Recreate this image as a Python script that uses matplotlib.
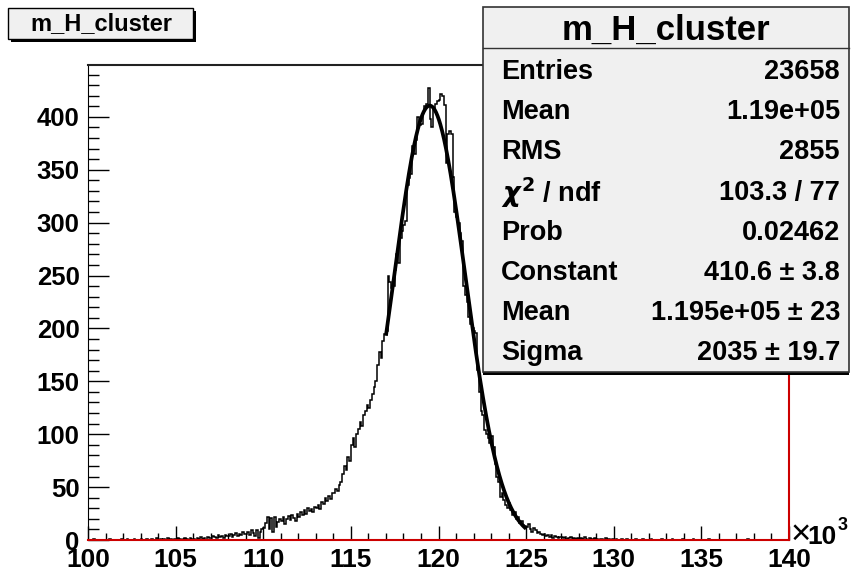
import numpy as np
import matplotlib.pyplot as plt
from matplotlib.patches import Rectangle

plt.rcParams['font.family'] = ['Liberation Sans', 'DejaVu Sans']
plt.rcParams['font.weight'] = 'bold'

# histogram m_H_cluster, 400 bins of 0.1 (x10^3) from 100 to 140
edges = np.linspace(100, 140, 401)

tail_low = [0, 0, 0, 1, 0, 0, 0, 0, 0, 0,
            0, 0, 1, 0, 0, 0, 0, 0, 0, 1,
            0, 0, 1, 0, 0, 0, 1, 0, 0, 0,
            1, 0, 0, 1, 0, 0, 1, 0, 0, 2,
            0, 1, 0, 1, 0, 2, 0, 1, 0, 1,
            1, 2, 1, 0, 1, 2, 1, 0, 2, 1,
            1, 0, 2, 1, 3, 1, 2, 0, 3, 2,
            2, 4, 3, 2, 5, 3, 4, 2, 5, 4,
            4, 6, 3, 5, 7, 4, 6, 5, 8, 6,
            6, 8, 5, 9, 7, 4, 9, 2, 8, 10]
rise = [11, 16, 22, 10, 21, 8, 22, 12, 17, 20,
        18, 22, 15, 20, 23, 19, 24, 21, 18, 25,
        22, 26, 24, 28, 25, 30, 27, 29, 26, 31,
        30, 33, 29, 36, 34, 40, 37, 42, 39, 44,
        44, 48, 46, 52, 55, 62, 70, 66, 78, 75,
        90, 96, 88, 100, 105, 112, 108, 118, 122, 128,
        125, 132, 138, 145, 150, 165, 178, 172, 188, 195]
peak = [198, 250, 244, 238, 240, 255, 270, 262, 285, 292,
        298, 302, 336, 342, 346, 372, 365, 378, 400, 392,
        393, 405, 410, 412, 427, 398, 390, 408, 412, 415,
        416, 422, 420, 411, 356, 384, 387, 384, 343, 310,
        305, 300, 290, 283, 240, 232, 225, 211, 204, 200]
fall = [198, 196, 161, 140, 122, 118, 104, 100, 96, 92,
        98, 88, 72, 60, 55, 41, 44, 38, 33, 30,
        35, 28, 24, 26, 20, 22, 16, 18, 14, 13,
        12, 15, 10, 8, 11, 9, 7, 8, 6, 5,
        6, 4, 5, 3, 5, 2, 4, 3, 2, 3]
tail_high = [3, 2, 3, 1, 2, 3, 1, 2, 1, 2,
             1, 2, 1, 3, 1, 0, 2, 1, 1, 2,
             1, 0, 1, 1, 0, 2, 0, 1, 0, 1,
             0, 1, 0, 0, 1, 0, 0, 1, 0, 0,
             0, 0, 1, 0, 0, 0, 1, 0, 0, 0,
             0, 1, 0, 0, 0, 0, 0, 1, 0, 0,
             0, 0, 0, 1, 0, 0, 0, 0, 0, 1,
             0, 0, 0, 0, 0, 1, 0, 0, 0, 0,
             0, 0, 0, 0, 1, 0, 0, 0, 0, 0,
             0, 0, 0, 0, 0, 0, 0, 0, 0, 0,
             0, 0, 0, 0, 0, 0, 1, 0, 0, 0,
             0, 0, 0, 0, 0, 0, 0, 0, 0, 0,
             0, 0, 0, 0, 0, 0, 0, 0, 0, 0]
counts = np.array(tail_low + rise + peak + fall + tail_high)

# gaussian fit result (stats box), fit range 117-125
fit_const, fit_mean, fit_sigma = 410.6, 119.5, 2.035
fit_lo, fit_hi = 117.0, 125.0

stat_labels = ['Entries', 'Mean', 'RMS', r'$\chi^{\mathbf{2}}$ / ndf', 'Prob', 'Constant',
               'Mean', 'Sigma']
stat_values = ['23658', '1.19e+05', '2855', '103.3 / 77', '0.02462',
               '410.6 ± 3.8', '1.195e+05 ± 23', '2035 ± 19.7']

W, H = 853, 571
fig = plt.figure(figsize=(W / 100, H / 100), dpi=100)
ax = fig.add_axes([88 / W, 1 - 540 / H, (789 - 88) / W, (540 - 65) / H])

ax.stairs(counts, edges, color='black', lw=1.1, baseline=0)
xf = np.linspace(fit_lo, fit_hi, 300)
ax.plot(xf, fit_const * np.exp(-0.5 * ((xf - fit_mean) / fit_sigma) ** 2),
        color='black', lw=2.7, solid_capstyle='butt')

ax.set_xlim(100, 140)
ax.set_ylim(0, 449)
ax.set_xticks(np.arange(100, 141, 5))
ax.set_xticks(np.arange(100, 141, 1), minor=True)
ax.set_yticks(np.arange(0, 401, 50))
ax.set_yticks(np.arange(0, 441, 10), minor=True)
ax.tick_params(axis='x', which='major', direction='in', length=10, width=1, pad=6,
               labelsize=19, top=False)
ax.tick_params(axis='x', which='minor', direction='in', length=5, width=1, top=False)
ax.tick_params(axis='y', which='major', direction='in', length=15, width=1, pad=6,
               labelsize=18.5, right=False)
ax.tick_params(axis='y', which='minor', direction='in', length=8, width=1, right=False)
for lab in ax.get_xticklabels() + ax.get_yticklabels():
    lab.set_fontweight('bold')

for s in ['bottom', 'right']:
    ax.spines[s].set_color('#cc0000')
    ax.spines[s].set_linewidth(1.5)
ax.spines['left'].set_color('black')
ax.spines['top'].set_color('#222222')
ax.spines['top'].set_linewidth(1.5)

fig.text(791 / W, 1 - 544 / H, '×', fontsize=25, fontweight='normal', ha='left', va='baseline')
fig.text(807 / W, 1 - 544 / H, '10', fontsize=19, fontweight='bold', ha='left', va='baseline')
fig.text(838 / W, 1 - 530 / H, '3', fontsize=13, fontweight='bold', ha='left', va='baseline')

# title box
fig.patches.append(Rectangle((11 / W, 1 - 42 / H), 185 / W, 31 / H, transform=fig.transFigure,
                             facecolor='black', edgecolor='none', zorder=5))
fig.patches.append(Rectangle((8 / W, 1 - 39 / H), 185 / W, 31 / H, transform=fig.transFigure,
                             facecolor='#f0f0f0', edgecolor='black', lw=1, zorder=6))
fig.text(101 / W, 1 - 24 / H, 'm_H_cluster', fontsize=17, fontweight='bold',
         ha='center', va='center', zorder=7)

# stats box
bx0, bx1, by0, by1 = 483, 849, 7, 372
fig.patches.append(Rectangle((bx0 / W, 1 - (by1 + 3) / H), (bx1 - bx0) / W, (by1 - by0) / H,
                             transform=fig.transFigure, facecolor='black', edgecolor='none',
                             zorder=5))
fig.patches.append(Rectangle((bx0 / W, 1 - by1 / H), (bx1 - bx0) / W, (by1 - by0) / H,
                             transform=fig.transFigure, facecolor='#f0f0f0', edgecolor='#333333',
                             lw=1.2, zorder=6))
fig.add_artist(plt.Line2D([bx0 / W, bx1 / W], [1 - 48 / H, 1 - 48 / H], color='#333333',
                          lw=1, transform=fig.transFigure, zorder=7))
fig.text((bx0 + bx1) / 2 / W, 1 - 30 / H, 'm_H_cluster', fontsize=25, fontweight='bold',
         ha='center', va='center', zorder=8)
for i, (lab, val) in enumerate(zip(stat_labels, stat_values)):
    yc = 72 + i * 40.2
    fig.text(501 / W, 1 - yc / H, lab, fontsize=19.5, fontweight='bold',
             ha='left', va='center', zorder=8)
    fig.text(840 / W, 1 - yc / H, val, fontsize=19.5, fontweight='bold',
             ha='right', va='center', zorder=8)

fig.savefig('out.png', dpi=100)
